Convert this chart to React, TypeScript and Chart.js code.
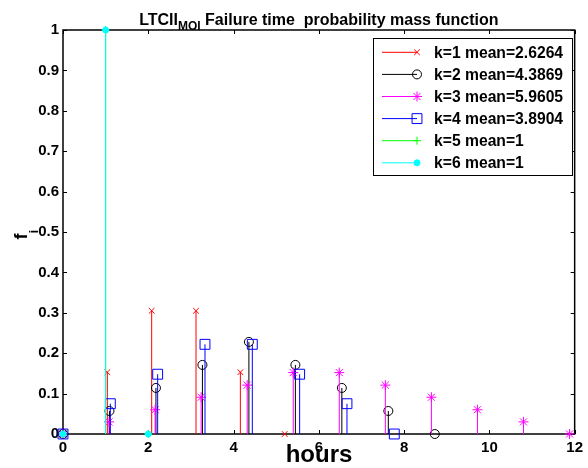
import React, { useEffect, useRef } from "react";
import { Chart, registerables } from "chart.js";
import { drawPoint } from "chart.js/helpers";

Chart.register(...registerables);

const FONT = "'Liberation Sans', Arial, Helvetica, sans-serif";

// Failure-time probability mass functions, one stem series per k
const k1Hours = [0, 1.04, 2.08, 3.12, 4.16, 5.2];
const k1Mass = [0, 0.153, 0.305, 0.305, 0.153, 0];

const k2Hours = [0, 1.09, 2.18, 3.27, 4.36, 5.45, 6.54, 7.63, 8.72];
const k2Mass = [0, 0.057, 0.114, 0.171, 0.228, 0.171, 0.114, 0.057, 0];

const k3Hours = [0, 1.08, 2.16, 3.24, 4.32, 5.4, 6.48, 7.56, 8.64, 9.72, 10.8, 11.88];
const k3Mass = [0, 0.03, 0.06, 0.091, 0.121, 0.152, 0.152, 0.121, 0.091, 0.06, 0.03, 0];

const k4Hours = [0, 1.11, 2.22, 3.33, 4.44, 5.55, 6.66, 7.77];
const k4Mass = [0, 0.075, 0.148, 0.222, 0.222, 0.148, 0.075, 0];

const k5Hours = [0, 1, 2];
const k5Mass = [0, 1, 0];

const k6Hours = [0, 1, 2];
const k6Mass = [0, 1, 0];

const seriesHours = [k1Hours, k2Hours, k3Hours, k4Hours, k5Hours, k6Hours];
const seriesMass = [k1Mass, k2Mass, k3Mass, k4Mass, k5Mass, k6Mass];

const seriesLabels = [
  "k=1 mean=2.6264",
  "k=2 mean=4.3869",
  "k=3 mean=5.9605",
  "k=4 mean=3.8904",
  "k=5 mean=1",
  "k=6 mean=1",
];
const seriesColors = ["#ff0000", "#000000", "#ff00ff", "#0000ff", "#00ff00", "#00ffff"];
const markerStyles = ["crossRot", "circle", "star", "rect", "cross", "circle"];
const markerRadii = [4, 4.5, 5, 7, 4, 3];
const markerFills = [
  "rgba(0,0,0,0)",
  "rgba(0,0,0,0)",
  "rgba(0,0,0,0)",
  "rgba(0,0,0,0)",
  "rgba(0,0,0,0)",
  "#00ffff",
];

const xTickValues = [0, 2, 4, 6, 8, 10, 12];
const yTickValues = [0, 0.1, 0.2, 0.3, 0.4, 0.5, 0.6, 0.7, 0.8, 0.9, 1];

const titleMain = "LTCII";
const titleSub = "MOI";
const titleRest = " Failure time  probability mass function";
const xLabel = "hours";
const yLabel = "f";
const yLabelSub = "i";

// vertical stems from the baseline to each point, drawn just under that series' markers
const stemPlugin = {
  id: "stems",
  beforeDatasetDraw(chart: any, args: any) {
    const { ctx } = chart;
    const xs = chart.scales.x;
    const ys = chart.scales.y;
    const ds = chart.data.datasets[args.index];
    const base = ys.getPixelForValue(0);
    ctx.save();
    ctx.strokeStyle = ds.borderColor;
    ctx.lineWidth = 1;
    ctx.beginPath();
    for (const p of ds.data) {
      if (p.y === 0) continue;
      const px = xs.getPixelForValue(p.x);
      ctx.moveTo(px, base);
      ctx.lineTo(px, ys.getPixelForValue(p.y));
    }
    ctx.stroke();
    ctx.restore();
  },
};

// axes box with inward tick marks
const framePlugin = {
  id: "frame",
  beforeDatasetsDraw(chart: any) {
    const { ctx, chartArea: a } = chart;
    const xs = chart.scales.x;
    const ys = chart.scales.y;
    ctx.save();
    ctx.strokeStyle = "#000";
    ctx.lineWidth = 1;
    ctx.beginPath();
    for (const v of xTickValues) {
      const px = Math.round(xs.getPixelForValue(v)) + 0.5;
      ctx.moveTo(px, a.top);
      ctx.lineTo(px, a.top + 4);
      ctx.moveTo(px, a.bottom);
      ctx.lineTo(px, a.bottom - 4);
    }
    for (const v of yTickValues) {
      const py = Math.round(ys.getPixelForValue(v)) + 0.5;
      ctx.moveTo(a.left, py);
      ctx.lineTo(a.left + 4, py);
      ctx.moveTo(a.right, py);
      ctx.lineTo(a.right - 4, py);
    }
    ctx.stroke();
    ctx.lineWidth = 1.5;
    ctx.strokeRect(a.left, a.top, a.right - a.left, a.bottom - a.top);
    ctx.restore();
  },
};

// title, axis labels and legend
const textPlugin = {
  id: "texts",
  afterDraw(chart: any) {
    const { ctx, chartArea: a } = chart;
    ctx.save();
    ctx.fillStyle = "#000";
    ctx.textBaseline = "alphabetic";
    ctx.textAlign = "left";

    // title with subscript
    const mainFont = `bold 16px ${FONT}`;
    const subFont = `bold 12px ${FONT}`;
    ctx.font = mainFont;
    const wMain = ctx.measureText(titleMain).width;
    const wRest = ctx.measureText(titleRest).width;
    ctx.font = subFont;
    const wSub = ctx.measureText(titleSub).width;
    const cx = (a.left + a.right) / 2;
    let tx = cx - (wMain + wSub + wRest) / 2;
    ctx.font = mainFont;
    ctx.fillText(titleMain, tx, 25);
    tx += wMain;
    ctx.font = subFont;
    ctx.fillText(titleSub, tx, 29.5);
    tx += wSub;
    ctx.font = mainFont;
    ctx.fillText(titleRest, tx, 25);

    // x label
    ctx.font = `bold 24px ${FONT}`;
    ctx.textAlign = "center";
    ctx.fillText(xLabel, 319, 462);

    // y label with subscript, rotated
    ctx.save();
    ctx.translate(27, 239.5);
    ctx.rotate(-Math.PI / 2);
    ctx.textAlign = "left";
    ctx.font = `bold 18px ${FONT}`;
    ctx.fillText(yLabel, 0, 0);
    ctx.font = `bold 13px ${FONT}`;
    ctx.fillText(yLabelSub, 6, 11);
    ctx.restore();

    // legend
    const lx = 373;
    const ly = 38;
    const lw = 199;
    const lh = 137;
    ctx.fillStyle = "#fff";
    ctx.fillRect(lx, ly, lw, lh);
    ctx.strokeStyle = "#000";
    ctx.lineWidth = 1;
    ctx.strokeRect(lx + 0.5, ly + 0.5, lw, lh);
    ctx.font = `bold 15.7px ${FONT}`;
    ctx.textAlign = "left";
    ctx.textBaseline = "middle";
    for (let i = 0; i < seriesLabels.length; i++) {
      const ry = 52.3 + i * 22.1;
      ctx.strokeStyle = seriesColors[i];
      ctx.lineWidth = 1;
      ctx.beginPath();
      ctx.moveTo(382, ry);
      ctx.lineTo(417, ry);
      ctx.stroke();
      ctx.fillStyle = markerFills[i];
      drawPoint(
        ctx,
        { pointStyle: markerStyles[i], radius: markerRadii[i], borderWidth: 1, rotation: 0 } as any,
        417,
        ry
      );
      ctx.fillStyle = "#000";
      ctx.fillText(seriesLabels[i], 434, ry + 1);
    }
    ctx.restore();
  },
};

export default function App() {
  const canvasRef = useRef<HTMLCanvasElement | null>(null);

  useEffect(() => {
    if (!canvasRef.current) return;
    const datasets = seriesLabels.map((label, i) => ({
      label,
      data: seriesHours[i].map((h, j) => ({ x: h, y: seriesMass[i][j] })),
      borderColor: seriesColors[i],
      backgroundColor: markerFills[i],
      pointStyle: markerStyles[i],
      pointRadius: markerRadii[i],
      pointBorderWidth: 1,
      showLine: false,
      clip: false as any,
      order: seriesLabels.length - 1 - i,
    }));

    const tickFont = { family: FONT, size: 15, weight: "bold" as const };

    const chart = new Chart(canvasRef.current, {
      type: "scatter",
      data: { datasets },
      options: {
        animation: false,
        responsive: false,
        events: [],
        layout: { padding: { left: 0, right: 10, top: 30, bottom: 0 } },
        plugins: {
          legend: { display: false },
          tooltip: { enabled: false },
          title: { display: false },
        },
        scales: {
          x: {
            type: "linear",
            min: 0,
            max: 12,
            grid: { display: false, drawTicks: false },
            border: { display: false },
            afterBuildTicks: (scale: any) => {
              scale.ticks = xTickValues.map((v) => ({ value: v }));
            },
            afterFit: (scale: any) => {
              scale.height = 34;
            },
            ticks: {
              color: "#000",
              font: tickFont,
              padding: 5,
              maxRotation: 0,
              autoSkip: false,
              callback: (v: any) => String(v),
            },
          },
          y: {
            type: "linear",
            min: 0,
            max: 1,
            grid: { display: false, drawTicks: false },
            border: { display: false },
            afterBuildTicks: (scale: any) => {
              scale.ticks = yTickValues.map((v) => ({ value: v }));
            },
            afterFit: (scale: any) => {
              scale.width = 63;
            },
            ticks: {
              color: "#000",
              font: tickFont,
              padding: 4,
              autoSkip: false,
              callback: (v: any) => {
                const n = Number(v);
                return n === 0 || n === 1 ? String(n) : n.toFixed(1);
              },
            },
          },
        },
      },
      plugins: [framePlugin, stemPlugin, textPlugin],
    });
    return () => chart.destroy();
  }, []);

  return (
    <div style={{ position: "absolute", left: 0, top: 0, width: 588, height: 468, background: "#fff" }}>
      <canvas ref={canvasRef} width={588} height={468} style={{ display: "block" }} />
    </div>
  );
}
